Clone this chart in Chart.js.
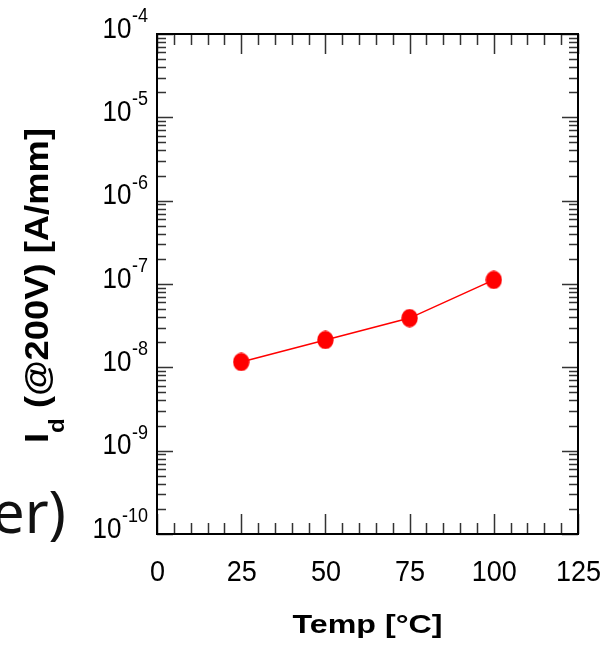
<!DOCTYPE html>
<html>
<head>
<meta charset="utf-8">
<script src="https://cdn.jsdelivr.net/npm/chart.js@4"></script>
<style>
  html, body { margin: 0; padding: 0; background: #fff; }
  canvas { display: block; }
</style>
</head>
<body>
<canvas id="chartLeak" width="613" height="653"></canvas>
<script>
// Datos
const temps = [25, 50, 75, 100];
const leakage = [1.16e-8, 2.13e-8, 3.9e-8, 1.12e-7];
const xTickValues = [0, 25, 50, 75, 100, 125];
const yTickExponents = [-10, -9, -8, -7, -6, -5, -4];
const xTitle = 'Temp [°C]';
const yTitleMain = 'I';
const yTitleSub = 'd';
const yTitleRest = ' (@200V) [A/mm]';
const strayText = 'er)';

// Punto rojo algo ovalado, como en la imagen
function makeDot(w, h, color) {
    const c = document.createElement('canvas');
    c.width = w; c.height = h;
    const g = c.getContext('2d');
    g.fillStyle = color;
    g.beginPath();
    g.ellipse(w / 2, h / 2, w / 2 - 0.3, h / 2 - 0.3, 0, 0, Math.PI * 2);
    g.fill();
    return c;
}

function drawScaled(ctx, text, x, y, font, align, sx, sy) {
    ctx.save();
    ctx.font = font;
    ctx.textAlign = align;
    ctx.textBaseline = 'alphabetic';
    ctx.translate(x, y);
    ctx.scale(sx, sy);
    ctx.fillText(text, 0, 0);
    ctx.restore();
}

// Marco, ticks hacia adentro y etiquetas
const axisFrame = {
    id: 'axisFrame',
    afterDraw(chart) {
        const { ctx, chartArea: a, scales: { x, y } } = chart;
        ctx.save();

        // ticks eje X (abajo y arriba)
        ctx.strokeStyle = '#333';
        ctx.lineWidth = 1.5;
        for (let v = xTickValues[0]; v <= xTickValues[xTickValues.length - 1]; v += 5) {
            const px = Math.round(x.getPixelForValue(v)) + 0.5;
            const len = xTickValues.includes(v) ? 20 : 11;
            ctx.beginPath();
            ctx.moveTo(px, a.bottom); ctx.lineTo(px, a.bottom - len);
            ctx.moveTo(px, a.top); ctx.lineTo(px, a.top + len);
            ctx.stroke();
        }

        // ticks eje Y (izquierda y derecha), décadas y menores
        yTickExponents.forEach(e => {
            for (let m = 1; m <= 9; m++) {
                if (e === yTickExponents[yTickExponents.length - 1] && m > 1) break;
                const py = Math.round(y.getPixelForValue(m * Math.pow(10, e))) + 0.5;
                const len = m === 1 ? 16 : 9;
                ctx.beginPath();
                ctx.moveTo(a.left, py); ctx.lineTo(a.left + len, py);
                ctx.moveTo(a.right, py); ctx.lineTo(a.right - len, py);
                ctx.stroke();
            }
        });

        // marco
        ctx.strokeStyle = '#000';
        ctx.lineWidth = 2;
        ctx.strokeRect(a.left, a.top, a.right - a.left, a.bottom - a.top);

        // etiquetas Y: 10 con exponente
        ctx.fillStyle = '#000';
        yTickExponents.forEach(e => {
            const py = y.getPixelForValue(Math.pow(10, e));
            const sup = String(e);
            ctx.font = '18px "Liberation Sans", Arial, sans-serif';
            const supW = ctx.measureText(sup).width;
            drawScaled(ctx, sup, 148, py - 12, '18px "Liberation Sans", Arial, sans-serif', 'right', 1, 1.12);
            drawScaled(ctx, '10', 148 - supW - 0.5, py + 3.5, '26px "Liberation Sans", Arial, sans-serif', 'right', 1, 1.12);
        });

        // etiquetas X
        xTickValues.forEach(v => {
            const px = x.getPixelForValue(v);
            drawScaled(ctx, String(v), px + 0.5, 581, '27px "Liberation Sans", Arial, sans-serif', 'center', 1, 1.1);
        });

        // título X
        ctx.font = 'bold 25px "Liberation Sans", Arial, sans-serif';
        const wx = ctx.measureText(xTitle).width;
        drawScaled(ctx, xTitle, (a.left + a.right) / 2, 633, ctx.font, 'center', 150 / wx, 1.06);

        // título Y (rotado, con subíndice)
        const fMain = 'bold 33px "Liberation Sans", Arial, sans-serif';
        const fSub = 'bold 22px "Liberation Sans", Arial, sans-serif';
        ctx.font = fMain;
        const wI = ctx.measureText(yTitleMain).width;
        const wRest = ctx.measureText(yTitleRest).width;
        ctx.font = fSub;
        const wd = ctx.measureText(yTitleSub).width;
        const total = wI + wd + wRest;
        const sx = 315 / total;
        ctx.save();
        ctx.translate(48, (a.top + a.bottom) / 2 + 1.5);
        ctx.rotate(-Math.PI / 2);
        ctx.scale(sx, 1);
        ctx.textAlign = 'left';
        let cx = -total / 2;
        ctx.font = fMain; ctx.fillText(yTitleMain, cx, 0); cx += wI;
        ctx.font = fSub; ctx.fillText(yTitleSub, cx, 16); cx += wd;
        ctx.font = fMain; ctx.fillText(yTitleRest, cx, 0);
        ctx.restore();

        // texto recortado a la izquierda
        ctx.fillStyle = '#111';
        ctx.font = '58px "Noto Sans", sans-serif';
        ctx.textAlign = 'right';
        ctx.fillText(strayText, 66, 533);

        ctx.restore();
    }
};

function renderChart() {
    new Chart(document.getElementById('chartLeak'), {
        type: 'line',
        data: {
            datasets: [{
                data: temps.map((t, i) => ({ x: t, y: leakage[i] })),
                borderColor: '#ff0000',
                borderWidth: 1.5,
                pointStyle: makeDot(17, 19, '#ff0000'),
                pointRadius: 9,
                tension: 0
            }]
        },
        options: {
            responsive: false,
            animation: false,
            devicePixelRatio: 1,
            layout: { padding: { left: 157, right: 35, top: 34, bottom: 119 } },
            plugins: {
                legend: { display: false },
                tooltip: { enabled: false }
            },
            scales: {
                x: { type: 'linear', min: 0, max: 125, display: false },
                y: { type: 'logarithmic', min: 1e-10, max: 1e-4, display: false }
            }
        },
        plugins: [axisFrame]
    });
}

document.addEventListener('DOMContentLoaded', renderChart);
</script>
</body>
</html>
